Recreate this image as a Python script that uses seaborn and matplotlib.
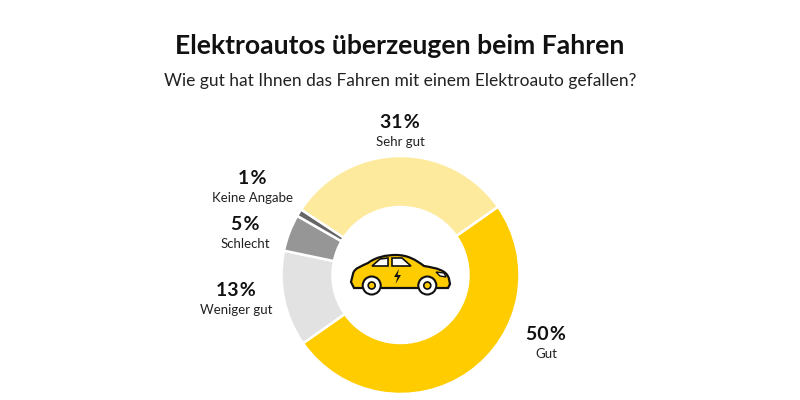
import matplotlib
matplotlib.use("Agg")
import matplotlib.pyplot as plt
from matplotlib.patches import Circle, PathPatch, Polygon
from matplotlib.path import Path
import seaborn as sns

title = "Elektroautos überzeugen beim Fahren"
subtitle = "Wie gut hat Ihnen das Fahren mit einem Elektroauto gefallen?"
categories = ["Gut", "Weniger gut", "Schlecht", "Keine Angabe", "Sehr gut"]
values = [50, 13, 5, 1, 31]
colors = ["#FFCC00", "#E2E2E2", "#969696", "#666666", "#FEEA9C"]
label_pos = [(546, 334), (236, 290), (245, 224), (252, 178), (400, 122)]

sns.set_theme(style="white")
plt.rcParams["font.family"] = ["Lato", "DejaVu Sans"]

fig = plt.figure(figsize=(8, 4), dpi=100, facecolor="white")
ax = fig.add_axes([0, 0, 1, 1])


def Y(y):
    return 400 - y


ax.pie(values, colors=colors, startangle=35, counterclock=False,
       center=(400.5, Y(275)), radius=119,
       wedgeprops=dict(width=51, edgecolor="white", linewidth=1.8))
ax.set_xlim(0, 800)
ax.set_ylim(0, 400)
ax.set_aspect("equal")
ax.axis("off")

ax.text(400, Y(46), title, ha="center", va="center", fontsize=19.1,
        fontweight="bold", color="#111111")
ax.text(400, Y(81), subtitle, ha="center", va="center", fontsize=12.55,
        color="#222222")

for cat, val, (x, y) in zip(categories, values, label_pos):
    ax.text(x, Y(y), f"{val} %".replace(" ", "\u200a"), ha="center", va="center",
            fontsize=14, fontweight="bold", color="#111111")
    ax.text(x, Y(y + 20), cat, ha="center", va="center", fontsize=9.5,
            color="#222222")

# Car icon in the hole of the ring
M, L, C, Z = Path.MOVETO, Path.LINETO, Path.CURVE4, Path.CLOSEPOLY
body = [
    ((354, 288), M), ((351, 282), L), ((353, 274), L),
    ((354, 268), C), ((362, 266), C), ((368, 263), L),
    ((376, 257), C), ((386, 255), C), ((396, 255), L),
    ((408, 255), C), ((416, 260), C), ((424, 266), L),
    ((436, 268), C), ((447, 270), C), ((449, 279), L),
    ((450, 284), L), ((448, 288), L), ((354, 288), L), ((354, 288), Z),
]
ax.add_patch(PathPatch(Path([(x, Y(y)) for (x, y), _ in body], [c for _, c in body]),
                       facecolor="#FFCC00", edgecolor="#111111", lw=1.6, zorder=5))
for win in ([(372, 266), (380, 259), (388, 258), (388, 266)],
            [(392, 258), (402, 258), (411, 266), (392, 266)]):
    ax.add_patch(Polygon([(x, Y(y)) for x, y in win], closed=True, facecolor="white",
                         edgecolor="#111111", lw=1.2, zorder=6))
ax.add_patch(Polygon([(436, Y(272)), (444, Y(273)), (446, Y(277)), (440, Y(276))],
                     closed=True, facecolor="white", edgecolor="#111111", lw=1, zorder=6))
ax.add_patch(Polygon([(399, Y(269)), (394, Y(277)), (397.5, Y(277)), (395.5, Y(284)),
                      (401, Y(275)), (397.5, Y(275))],
                     closed=True, facecolor="#111111", edgecolor="none", zorder=6))
for cx in (371.7, 427.3):
    ax.add_patch(Circle((cx, Y(285.5)), 9, facecolor="white", edgecolor="#111111", lw=1.5, zorder=7))
    ax.add_patch(Circle((cx, Y(285.5)), 3.5, facecolor="#FFCC00", edgecolor="#111111", lw=1.2, zorder=8))

fig.savefig("out.png", dpi=100, facecolor="white")
